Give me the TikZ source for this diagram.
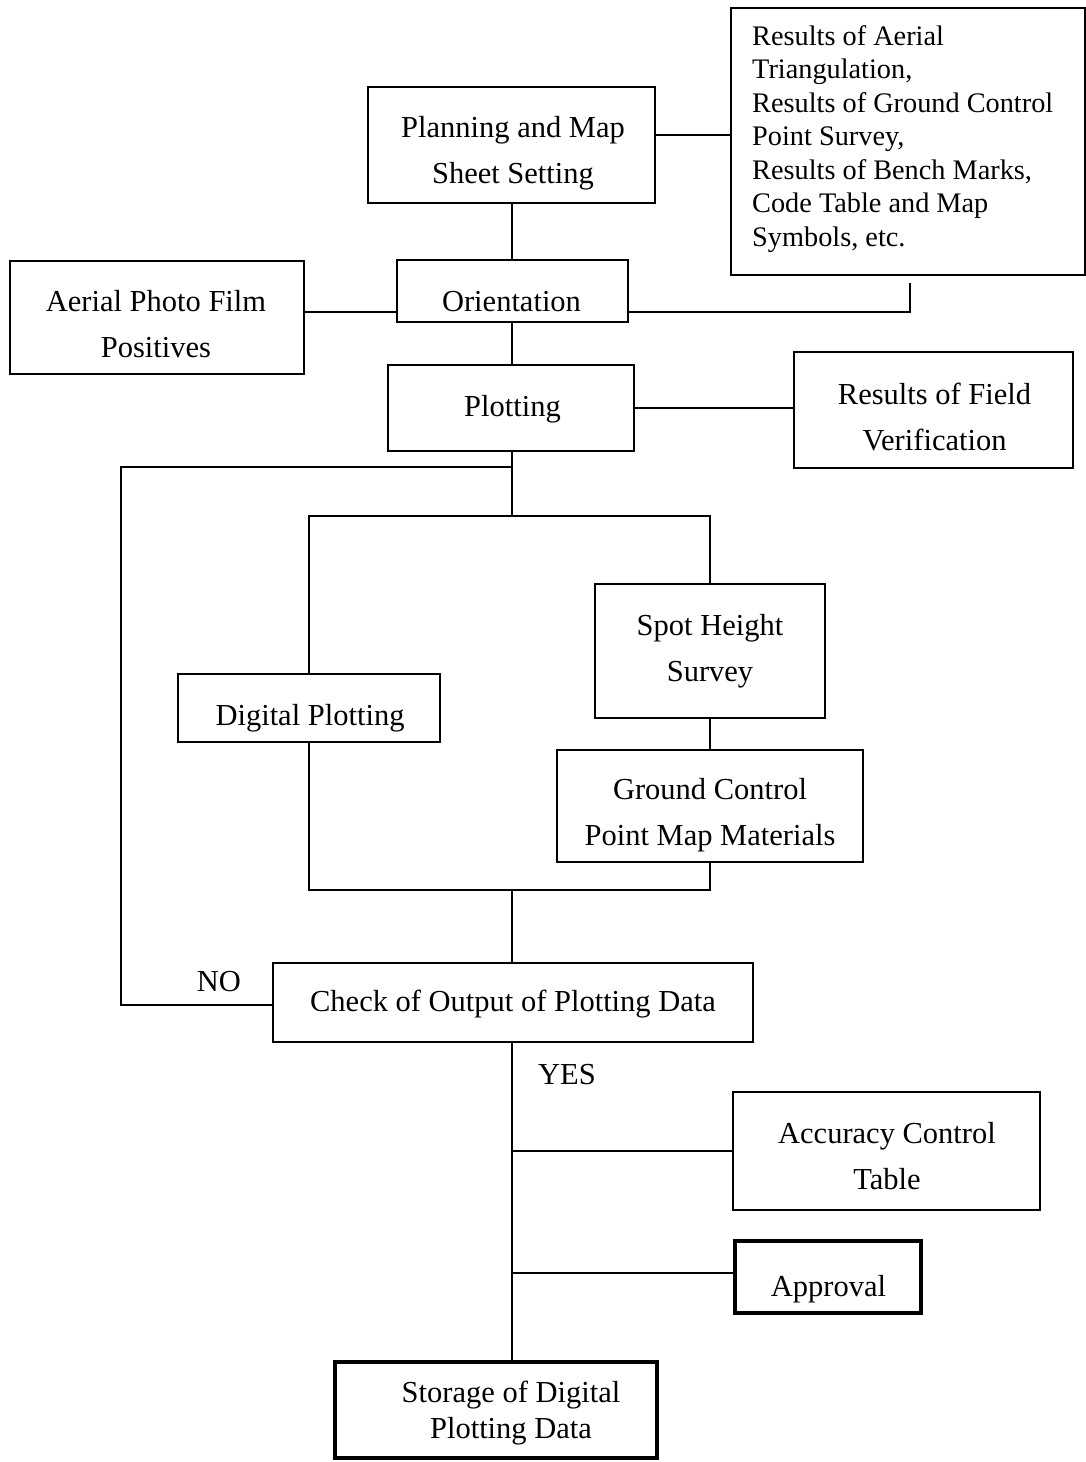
\documentclass[tikz,border=0pt]{standalone}
\usepackage{fontspec}
\setmainfont{Liberation Serif}
\newcommand{\mytwo}[2]{\begin{tabular}[t]{@{}c@{}}#1\\#2\end{tabular}}
\tikzset{
  box/.style={draw=black, line width=1.6pt, rectangle, inner sep=0pt, fill=white},
  thickbox/.style={box, line width=4.5pt},
  txt/.style={inner sep=0pt, anchor=base, font=\fontsize{30.5}{46}\selectfont},
  link/.style={draw=black, line width=1.6pt},
}
\begin{document}
\begin{tikzpicture}[x=1pt, y=-1pt]
\useasboundingbox (0,0) rectangle (1086,1462);
\fill[white] (0,0) rectangle (1086,1462);

% ---- boxes ----
\node[box, minimum width=287, minimum height=116] (plan)     at (511.5,145)   {};
\node[box, minimum width=354, minimum height=267] (results)  at (908,141.5)   {};
\node[box, minimum width=231, minimum height=62]  (orient)   at (512.5,291)   {};
\node[box, minimum width=294, minimum height=113] (aerial)   at (157,317.5)   {};
\node[box, minimum width=246, minimum height=86]  (plot)     at (511,408)     {};
\node[box, minimum width=279, minimum height=116] (field)    at (933.5,410)   {};
\node[box, minimum width=262, minimum height=68]  (digital)  at (309,708)     {};
\node[box, minimum width=230, minimum height=134] (spot)     at (710,651)     {};
\node[box, minimum width=306, minimum height=112] (ground)   at (710,806)     {};
\node[box, minimum width=480, minimum height=79]  (check)    at (513,1002.5)  {};
\node[box, minimum width=307, minimum height=118] (accuracy) at (886.5,1151)  {};
\node[thickbox, minimum width=186, minimum height=72] (approval) at (828,1277) {};
\node[thickbox, minimum width=322, minimum height=96] (storage)  at (496,1410) {};

% ---- texts ----
\node[txt] (plan-t)   at (513,137)  {\mytwo{Planning and Map}{Sheet Setting}};
\node[txt, anchor=base west, font=\fontsize{28.3}{33.5}\selectfont] (results-t) at (752,45)
  {\begin{tabular}[t]{@{}l@{}}Results of Aerial\\Triangulation,\\Results of Ground Control\\Point Survey,\\Results of Bench Marks,\\Code Table and Map\\Symbols, etc.\end{tabular}};
\node[txt] (orient-t)   at (511.5,311) {Orientation};
\node[txt] (aerial-t)   at (156,311)   {\mytwo{Aerial Photo Film}{Positives}};
\node[txt] (plot-t)     at (512.5,416) {Plotting};
\node[txt] (field-t)    at (934.5,404) {\mytwo{Results of Field}{Verification}};
\node[txt] (spot-t)     at (710,635)   {\mytwo{Spot Height}{Survey}};
\node[txt] (digital-t)  at (310,725)   {Digital Plotting};
\node[txt] (ground-t)   at (710,799)   {\mytwo{Ground Control}{Point Map Materials}};
\node[txt] (check-t)    at (513,1011)  {Check of Output of Plotting Data};
\node[txt] (no-t)       at (219,991)   {NO};
\node[txt] (yes-t)      at (567,1084)  {YES};
\node[txt] (accuracy-t) at (887,1143)  {\mytwo{Accuracy Control}{Table}};
\node[txt] (approval-t) at (828.5,1296) {Approval};
\node[txt, font=\fontsize{30.5}{36}\selectfont] (storage-t) at (511,1402) {\mytwo{Storage of Digital}{Plotting Data}};

% ---- helper points ----
\coordinate (y135)   at (0,135);
\coordinate (y312)   at (0,312);
\coordinate (rtail)  at (910,283);
\coordinate (loopA)  at (512,467);
\coordinate (loopB)  at (121,467);
\coordinate (split)  at (512,516);
\coordinate (merge)  at (512,890);
\coordinate (y1005)  at (0,1005);
\coordinate (y1273)  at (0,1273);

% ---- connectors (main trunk kept on x = 512) ----
\draw[link] (plan.east |- y135) -- (results.west |- y135);
\draw[link] (plan.south -| split) -- (orient.north -| split);
\draw[link] (aerial.east |- y312) -- (orient.west |- y312);
\draw[link] (orient.east |- y312) -| (rtail);
\draw[link] (orient.south -| split) -- (plot.north -| split);
\draw[link] (plot.east) -- (plot.east -| field.west);
\draw[link] (plot.south -| split) -- (split);
\draw[link] (loopA) -- (loopB) |- (check.west |- y1005);
\draw[link] (digital.north) |- (split) -| (spot.north);
\draw[link] (spot.south) -- (ground.north);
\draw[link] (digital.south) |- (merge) -| (ground.south);
\draw[link] (merge) -- (merge |- check.north);
\draw[link] (check.south -| merge) -- (storage.north -| merge);
\draw[link] (accuracy.west -| merge) -- (accuracy.west);
\draw[link] (approval.west |- y1273 -| merge) -- (approval.west |- y1273);
\end{tikzpicture}
\end{document}
